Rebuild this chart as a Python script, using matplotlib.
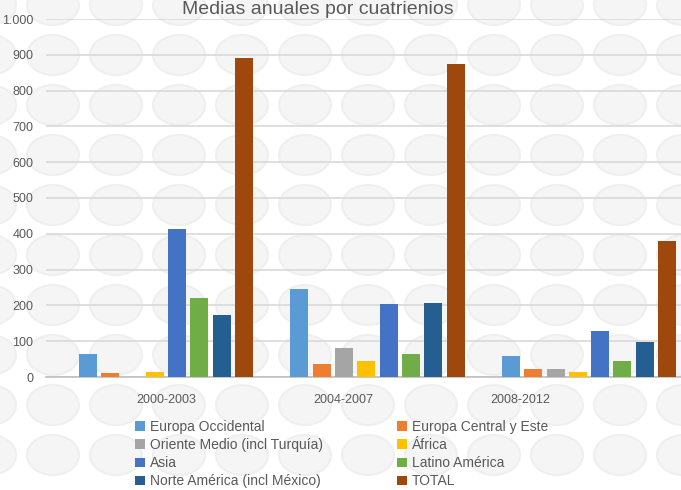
import numpy as np
import matplotlib.pyplot as plt
from matplotlib.patches import Ellipse, Patch

periods = ["2000-2003", "2004-2007", "2008-2012"]
regions = ["Europa Occidental", "Europa Central y Este", "Oriente Medio (incl Turquía)",
           "África", "Asia", "Latino América", "Norte América (incl México)", "TOTAL"]
colors = ["#5B9BD5", "#ED7D31", "#A5A5A5", "#FFC000", "#4472C4", "#70AD47", "#255E91", "#9E480E"]

europa_occ = [64, 246, 59]
europa_central = [12, 36, 22]
oriente_medio = [0, 81, 22]
africa = [15, 45, 14]
asia = [413, 204, 128]
latino = [221, 64, 45]
norte_am = [173, 207, 98]
total = [891, 875, 380]
series = [europa_occ, europa_central, oriente_medio, africa, asia, latino, norte_am, total]

yticks = [0, 100, 200, 300, 400, 500, 600, 700, 800, 900, 1000]
ytick_labels = ["0", "100", "200", "300", "400", "500", "600", "700", "800", "900", "1.000"]
# category labels in the original sit left of the group centres
label_pos = [0, 0.837, 1.674]

plt.rcParams['font.family'] = ['Liberation Sans', 'DejaVu Sans']
txt = "#595959"

fig = plt.figure(figsize=(6.81, 4.9), dpi=100)

# faint background watermark, behind everything
bg = fig.add_axes([0, 0, 1, 1], zorder=-1)
bg.set_xlim(0, 681)
bg.set_ylim(490, 0)
bg.axis("off")
for cy in np.arange(5, 500, 50):
    for cx in np.arange(-10, 700, 63):
        bg.add_patch(Ellipse((cx, cy), 52, 40, facecolor="#f5f5f5",
                             edgecolor="#efefef", lw=1.5))

ax = fig.add_axes([46 / 681, 113 / 490, 635 / 681, 358 / 490])
ax.patch.set_alpha(0)

x = np.arange(len(periods))
unit = 211.5
pitch = 22.3 / unit
width = 18 / unit
for i, (vals, c) in enumerate(zip(series, colors)):
    ax.bar(x + (i - 3.5) * pitch, vals, width, color=c, label=regions[i], zorder=3)

ax.set_ylim(0, 1000)
ax.set_xlim((46 - 166) / unit, (681 - 166) / unit)
ax.set_yticks(yticks)
ax.set_yticklabels(ytick_labels, color=txt, fontsize=9)
ax.set_xticks(label_pos)
ax.set_xticklabels(periods, color=txt, fontsize=9)
ax.tick_params(length=0)
ax.tick_params(axis='x', pad=12)
ax.tick_params(axis='y', pad=9)
ax.grid(axis='y', color="#D9D9D9", lw=1.2, zorder=0)
for s in ["top", "right", "left"]:
    ax.spines[s].set_visible(False)
ax.spines["bottom"].set_color("#BFBFBF")
ax.spines["bottom"].set_linewidth(1.2)

fig.text(318 / 681, 1 - 14 / 490, "Medias anuales por cuatrienios", ha="center",
         va="baseline", fontsize=14, color=txt)

handles = [Patch(facecolor=c) for c in colors]
order = [0, 2, 4, 6, 1, 3, 5, 7]
fig.legend([handles[i] for i in order], [regions[i] for i in order], ncol=2,
           loc="upper left", bbox_to_anchor=(128 / 681, 1 - 413 / 490), frameon=False,
           fontsize=10, handlelength=0.7, handleheight=0.7, handletextpad=0.4,
           columnspacing=5.3, labelspacing=0.3, labelcolor=txt, borderpad=0)

fig.savefig("out.png", dpi=100)
